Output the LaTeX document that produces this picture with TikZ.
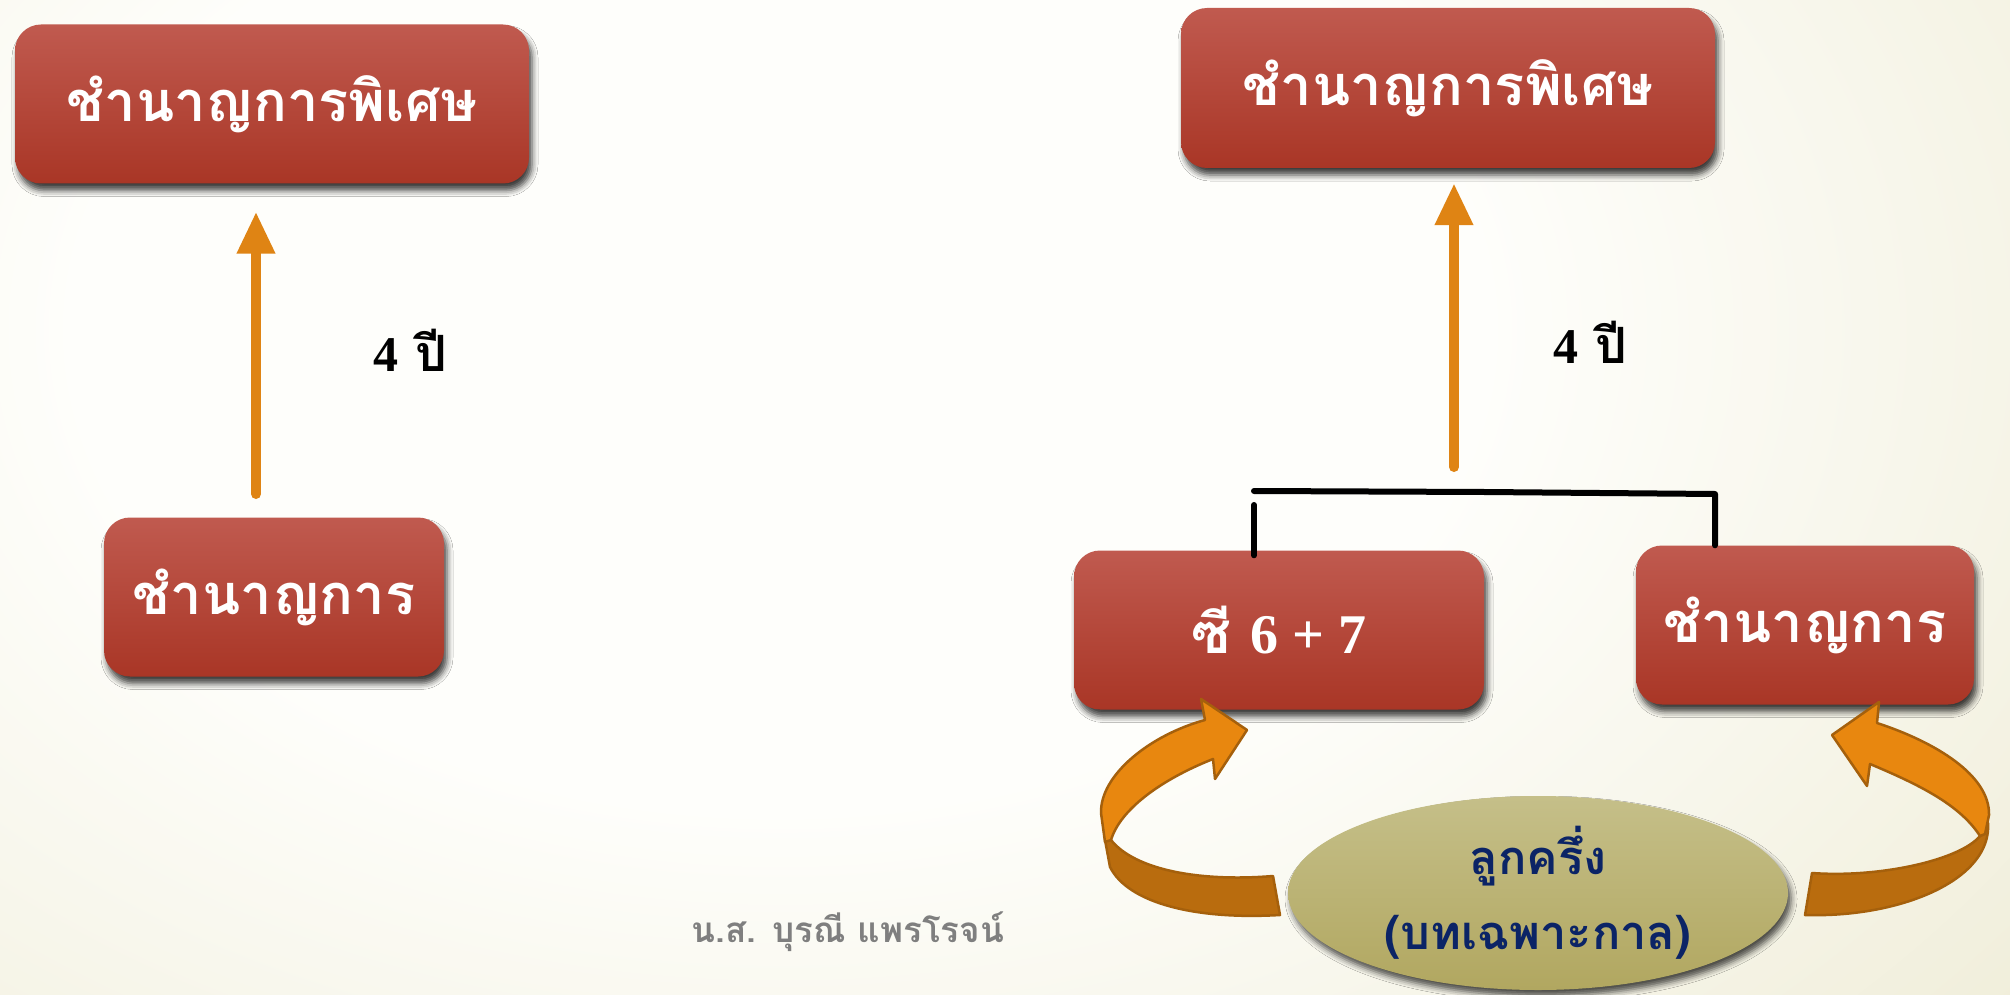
\documentclass[tikz,border=0pt]{standalone}
\usepackage{fontspec}
\newfontfamily\thai[Script=Thai]{Loma}
\newfontfamily\lserif{Liberation Serif}
\usetikzlibrary{arrows.meta,shadows.blur,shapes.geometric}
\definecolor{bgin}{HTML}{FEFEFB}
\definecolor{bgout}{HTML}{E7E3C4}
\definecolor{boxtop}{HTML}{C05A4F}
\definecolor{boxbot}{HTML}{A93626}
\definecolor{orange}{HTML}{DF8414}
\definecolor{curvelt}{HTML}{E8870F}
\definecolor{curvedk}{HTML}{B96C0E}
\definecolor{curveln}{HTML}{A5600C}
\definecolor{elltop}{HTML}{C5BF89}
\definecolor{ellbot}{HTML}{B1A760}
\definecolor{navy}{HTML}{0B2466}
\definecolor{foot}{HTML}{7F7F7F}
\pgfdeclareradialshading{bgshade}{\pgfpoint{0bp}{0bp}}{color(0bp)=(bgin); color(8bp)=(bgin); color(25bp)=(bgout); color(50bp)=(bgout)}
\tikzset{
  box/.style={rounded corners=26pt, top color=boxtop, bottom color=boxbot,
    blur shadow={shadow xshift=3pt, shadow yshift=-7pt, shadow blur radius=6pt, shadow opacity=75},
    text=white, font=\thai\bfseries\fontsize{56}{68}\selectfont, inner sep=0pt},
  ell/.style={ellipse, top color=elltop, bottom color=ellbot, inner sep=0pt,
    blur shadow={shadow xshift=3pt, shadow yshift=-6pt, shadow blur radius=6pt, shadow opacity=70}},
  elltext/.style={text=navy, font=\thai\bfseries\fontsize{47}{56}\selectfont, inner sep=0pt},
  orarrow/.style={draw=orange, line width=10pt, line cap=round, -{Triangle[width=36pt,length=42pt]}},
  bracket/.style={draw=black, line width=6pt, line cap=round, line join=round},
  yrs/.style={text=black, font=\thai\bfseries\fontsize{50}{60}\selectfont, inner sep=0pt},
  curvelight/.style={fill=curvelt, draw=curveln, line width=2.5pt, line join=round},
  curvedark/.style={fill=curvedk, draw=curveln, line width=2.5pt, line join=round},
  foottext/.style={text=foot, font=\thai\bfseries\fontsize{35}{42}\selectfont, inner sep=0pt}
}
\begin{document}
\begin{tikzpicture}[x=1pt,y=-1pt]
\useasboundingbox (0,0) rectangle (2010,995);
\begin{scope}
  \clip (0,0) rectangle (2010,995);
  \shade[shading=bgshade] (-1420,-1170) rectangle (2980,1830);
\end{scope}

% boxes
\node[box, minimum width=514pt, minimum height=159pt] (lt) at (272,104) {ชำนาญการพิเศษ};
\node[box, minimum width=340pt, minimum height=159pt] (lb) at (274,597) {ชำนาญการ};
\node[box, minimum width=534pt, minimum height=160pt] (rt) at (1448,88) {ชำนาญการพิเศษ};
\node[box, minimum width=410pt, minimum height=159pt] (c67) at (1279,630) {ซี {\lserif 6 + 7}};
\node[box, minimum width=338pt, minimum height=159pt] (rb) at (1805,625) {ชำนาญการ};

% straight arrows
\coordinate (la0) at (256,494);
\draw[orarrow, shorten >=28pt] (la0) -- (la0 |- lt.south);
\coordinate (ra0) at (1454,467);
\draw[orarrow, shorten >=15pt] (ra0) -- (ra0 |- rt.south);

\node[yrs] (y1) at (410,350) {{\lserif 4} ปี};
\node[yrs] (y2) at (1590,342) {{\lserif 4} ปี};

% bracket
\coordinate (bl) at (1254,491);
\coordinate (bm) at (1485,492);
\coordinate (br) at (1715,494);
\draw[bracket] (bl) -- (bm) -- (br) -- (br |- rb.north);
\draw[bracket] ([yshift=-14pt]bl) -- ([yshift=-5pt]bl |- c67.north);

% ellipse
\node[ell, minimum width=500pt, minimum height=194pt] (lk) at (1538,893) {};
\node[elltext] (lk1) at (1538,856) {ลูกครึ่ง};
\node[elltext] (lk2) at (1538,937) {(บทเฉพาะกาล)};

% left curved arrow
\draw[curvedark] (1105,840) -- (1110,867) .. controls (1128,903) and (1195,920) .. (1280,915)
  -- (1273,876) .. controls (1200,882) and (1135,870) .. (1111,840) -- cycle;
\draw[curvelight] (1105,842) -- (1101,813) .. controls (1100,775) and (1150,735) .. (1205,720)
  -- (1201,699) -- (1247,730) -- (1215,779) -- (1213,759)
  .. controls (1160,780) and (1120,810) .. (1111,840) -- cycle;

% right curved arrow
\draw[curvedark] (1988,823) .. controls (1992,880) and (1900,918) .. (1805,915)
  -- (1812,873) .. controls (1880,878) and (1960,860) .. (1980,836) -- cycle;
\draw[curvelight] (1877,723) .. controls (1935,742) and (1990,775) .. (1989,815)
  -- (1985,834) -- (1980,836) .. controls (1960,805) and (1920,785) .. (1870,764)
  -- (1867,786) -- (1832,735) -- (1879,702) -- cycle;

% footer
\node[foottext] (ft) at (848,932) {น.ส. บุรณี แพรโรจน์};
\end{tikzpicture}
\end{document}
